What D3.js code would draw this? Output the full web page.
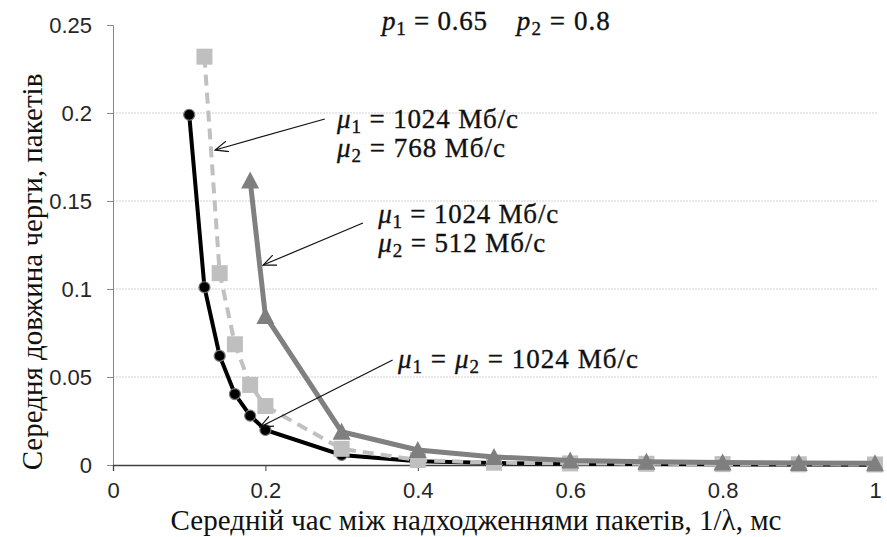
<!DOCTYPE html>
<html>
<head>
<meta charset="utf-8">
<script src="https://cdn.jsdelivr.net/npm/d3@7"></script>
<style>
  html, body { margin: 0; padding: 0; background: #fff; }
  svg { display: block; }
</style>
</head>
<body>
<div id="chart"></div>
<script>
// axis ticks
const xTicks = [0, 0.2, 0.4, 0.6, 0.8, 1];
const yTicks = [0, 0.05, 0.1, 0.15, 0.2, 0.25];
const gridTicks = [0.05, 0.1, 0.15, 0.2];

// mu1 = mu2 = 1024 (black, circles)
const xCircle = [0.1, 0.12, 0.14, 0.16, 0.18, 0.2, 0.3, 0.4, 0.5, 0.6, 0.7, 0.8, 0.9, 1.0];
const yCircle = [0.199, 0.101, 0.062, 0.0403, 0.028, 0.0199, 0.0057, 0.0022, 0.0011, 0.0007, 0.0005, 0.0004, 0.0003, 0.0002];

// mu2 = 768 (light grey dashed, squares)
const xSquare = [0.12, 0.14, 0.16, 0.18, 0.2, 0.3, 0.4, 0.5, 0.6, 0.7, 0.8, 0.9, 1.0];
const ySquare = [0.232, 0.109, 0.0686, 0.0455, 0.0335, 0.0092, 0.0028, 0.0013, 0.0009, 0.0007, 0.0005, 0.0004, 0.0003];

// mu2 = 512 (dark grey, triangles)
const xTriangle = [0.18, 0.2, 0.3, 0.4, 0.5, 0.6, 0.7, 0.8, 0.9, 1.0];
const yTriangle = [0.1616, 0.0847, 0.0189, 0.0085, 0.0046, 0.0025, 0.0018, 0.0014, 0.0012, 0.001];

const xTitle = 'Середній час між надходженнями пакетів, 1/λ, мс';
const yTitle = 'Середня довжина черги, пакетів';

const width = 887, height = 537;
const margin = { top: 25, right: 12, bottom: 72, left: 113 };

const svg = d3.select('#chart')
    .append('svg')
    .attr('width', width)
    .attr('height', height);

const x = d3.scaleLinear().domain([0, 1]).range([margin.left, width - margin.right]);
const y = d3.scaleLinear().domain([0, 0.25]).range([height - margin.bottom, margin.top]);

// gridlines
svg.append('g')
    .selectAll('line')
    .data(gridTicks)
    .enter()
    .append('line')
    .attr('x1', x(0))
    .attr('x2', x(1) + 2)
    .attr('y1', d => y(d))
    .attr('y2', d => y(d))
    .attr('stroke', '#cfcfcf')
    .attr('stroke-width', 1)
    .attr('stroke-dasharray', '2,1');

// y axis
const yAxis = svg.append('g')
    .attr('transform', `translate(${x(0)},0)`)
    .call(d3.axisLeft(y).tickValues(yTicks).tickSize(6).tickPadding(15).tickFormat(d => String(d)));
yAxis.select('.domain').attr('stroke', '#868686');
yAxis.selectAll('.tick line').attr('stroke', '#868686');
yAxis.selectAll('.tick text')
    .attr('fill', '#262626')
    .style('font-family', '"Liberation Sans", Arial, sans-serif')
    .style('font-size', '22px');

// x axis
const xAxis = svg.append('g')
    .attr('transform', `translate(0,${y(0)})`)
    .call(d3.axisBottom(x).tickValues(xTicks).tickSize(6).tickPadding(11).tickFormat(d => String(d)));
xAxis.select('.domain').attr('stroke', '#404040').attr('stroke-width', 1.3);
xAxis.selectAll('.tick line').attr('stroke', '#404040');
xAxis.selectAll('.tick text')
    .attr('fill', '#262626')
    .style('font-family', '"Liberation Sans", Arial, sans-serif')
    .style('font-size', '22px');

// axis titles
svg.append('text')
    .attr('x', 476)
    .attr('y', 530)
    .attr('text-anchor', 'middle')
    .attr('fill', '#111')
    .style('font-family', '"Liberation Serif", "Times New Roman", serif')
    .style('font-size', '29px')
    .text(xTitle);

svg.append('text')
    .attr('transform', 'translate(42,272) rotate(-90)')
    .attr('text-anchor', 'middle')
    .attr('fill', '#111')
    .style('font-family', '"Liberation Serif", "Times New Roman", serif')
    .style('font-size', '29px')
    .text(yTitle);

// series
const line = d3.line().x(d => x(d[0])).y(d => y(d[1]));
const circles = d3.zip(xCircle, yCircle);
const squares = d3.zip(xSquare, ySquare);
const triangles = d3.zip(xTriangle, yTriangle);

// black line + circles
svg.append('path')
    .datum(circles)
    .attr('d', line)
    .attr('fill', 'none')
    .attr('stroke', '#000')
    .attr('stroke-width', 4);
svg.append('g')
    .selectAll('circle')
    .data(circles)
    .enter()
    .append('circle')
    .attr('cx', d => x(d[0]))
    .attr('cy', d => y(d[1]))
    .attr('r', 5.5)
    .attr('fill', '#000')
    .attr('stroke', '#7a7a7a')
    .attr('stroke-width', 1.2);

// light grey dashed + squares
svg.append('path')
    .datum(squares)
    .attr('d', line)
    .attr('fill', 'none')
    .attr('stroke', '#c0c0c0')
    .attr('stroke-width', 4)
    .attr('stroke-dasharray', '11,7');
svg.append('g')
    .selectAll('rect')
    .data(squares)
    .enter()
    .append('rect')
    .attr('x', d => x(d[0]) - 8)
    .attr('y', d => y(d[1]) - 8)
    .attr('width', 16)
    .attr('height', 16)
    .attr('fill', '#bfbfbf');

// dark grey + triangles
svg.append('path')
    .datum(triangles)
    .attr('d', line)
    .attr('fill', 'none')
    .attr('stroke', '#808080')
    .attr('stroke-width', 5);
svg.append('g')
    .selectAll('path')
    .data(triangles)
    .enter()
    .append('path')
    .attr('d', d => {
        const cx = x(d[0]), cy = y(d[1]);
        return `M${cx},${cy - 9}L${cx + 9},${cy + 8}L${cx - 9},${cy + 8}Z`;
    })
    .attr('fill', '#7f7f7f');

// annotations
const defs = svg.append('defs');
defs.append('marker')
    .attr('id', 'arrow')
    .attr('viewBox', '0 -6 14 12')
    .attr('refX', 13)
    .attr('refY', 0)
    .attr('markerWidth', 14)
    .attr('markerHeight', 12)
    .attr('markerUnits', 'userSpaceOnUse')
    .attr('orient', 'auto')
    .append('path')
    .attr('d', 'M0,-5.5L13,0L0,5.5')
    .attr('fill', 'none')
    .attr('stroke', '#111')
    .attr('stroke-width', 1.2);

const arrows = [
    { from: [0.278, 0.1966], to: [0.134, 0.179] },
    { from: [0.328, 0.1375], to: [0.197, 0.1136] },
    { from: [0.367, 0.0597], to: [0.193, 0.0216] }
];
svg.append('g')
    .selectAll('line')
    .data(arrows)
    .enter()
    .append('line')
    .attr('x1', d => x(d.from[0]))
    .attr('y1', d => y(d.from[1]))
    .attr('x2', d => x(d.to[0]))
    .attr('y2', d => y(d.to[1]))
    .attr('stroke', '#111')
    .attr('stroke-width', 1.2)
    .attr('marker-end', 'url(#arrow)');

// math-like labels: [text, kind] where kind is 'i' (italic), 's' (subscript) or ''
const labels = [
    { at: [0.353, 0.2472], w: 105, parts: [['p', 'i'], ['1', 's'], [' = 0.65', '']] },
    { at: [0.530, 0.2472], w: 93, parts: [['p', 'i'], ['2', 's'], [' = 0.8', '']] },
    { at: [0.294, 0.1915], w: 181, parts: [['μ', 'i'], ['1', 's'], [' = 1024 Мб/с', '']] },
    { at: [0.294, 0.175], w: 168, parts: [['μ', 'i'], ['2', 's'], [' = 768 Мб/с', '']] },
    { at: [0.348, 0.1375], w: 180, parts: [['μ', 'i'], ['1', 's'], [' = 1024 Мб/с', '']] },
    { at: [0.348, 0.121], w: 167, parts: [['μ', 'i'], ['2', 's'], [' = 512 Мб/с', '']] },
    { at: [0.374, 0.0551], w: 240, parts: [['μ', 'i'], ['1', 's'], [' = ', ''], ['μ', 'i'], ['2', 's'], [' = 1024 Мб/с', '']] }
];

labels.forEach(lb => {
    const t = svg.append('text')
        .attr('x', x(lb.at[0]))
        .attr('y', y(lb.at[1]))
        .attr('fill', '#111')
        .attr('stroke', '#111')
        .attr('stroke-width', 0.35)
        .attr('textLength', lb.w)
        .attr('lengthAdjust', 'spacing')
        .style('font-family', '"Liberation Serif", "Times New Roman", serif')
        .style('font-size', '27px');
    let shifted = false;
    lb.parts.forEach(p => {
        const ts = t.append('tspan').text(p[0]);
        if (p[1] === 'i') ts.style('font-style', 'italic');
        if (p[1] === 's') {
            ts.style('font-size', '19px').attr('dy', 5);
            shifted = true;
        } else if (shifted) {
            ts.attr('dy', -5);
            shifted = false;
        }
    });
});
</script>
</body>
</html>
